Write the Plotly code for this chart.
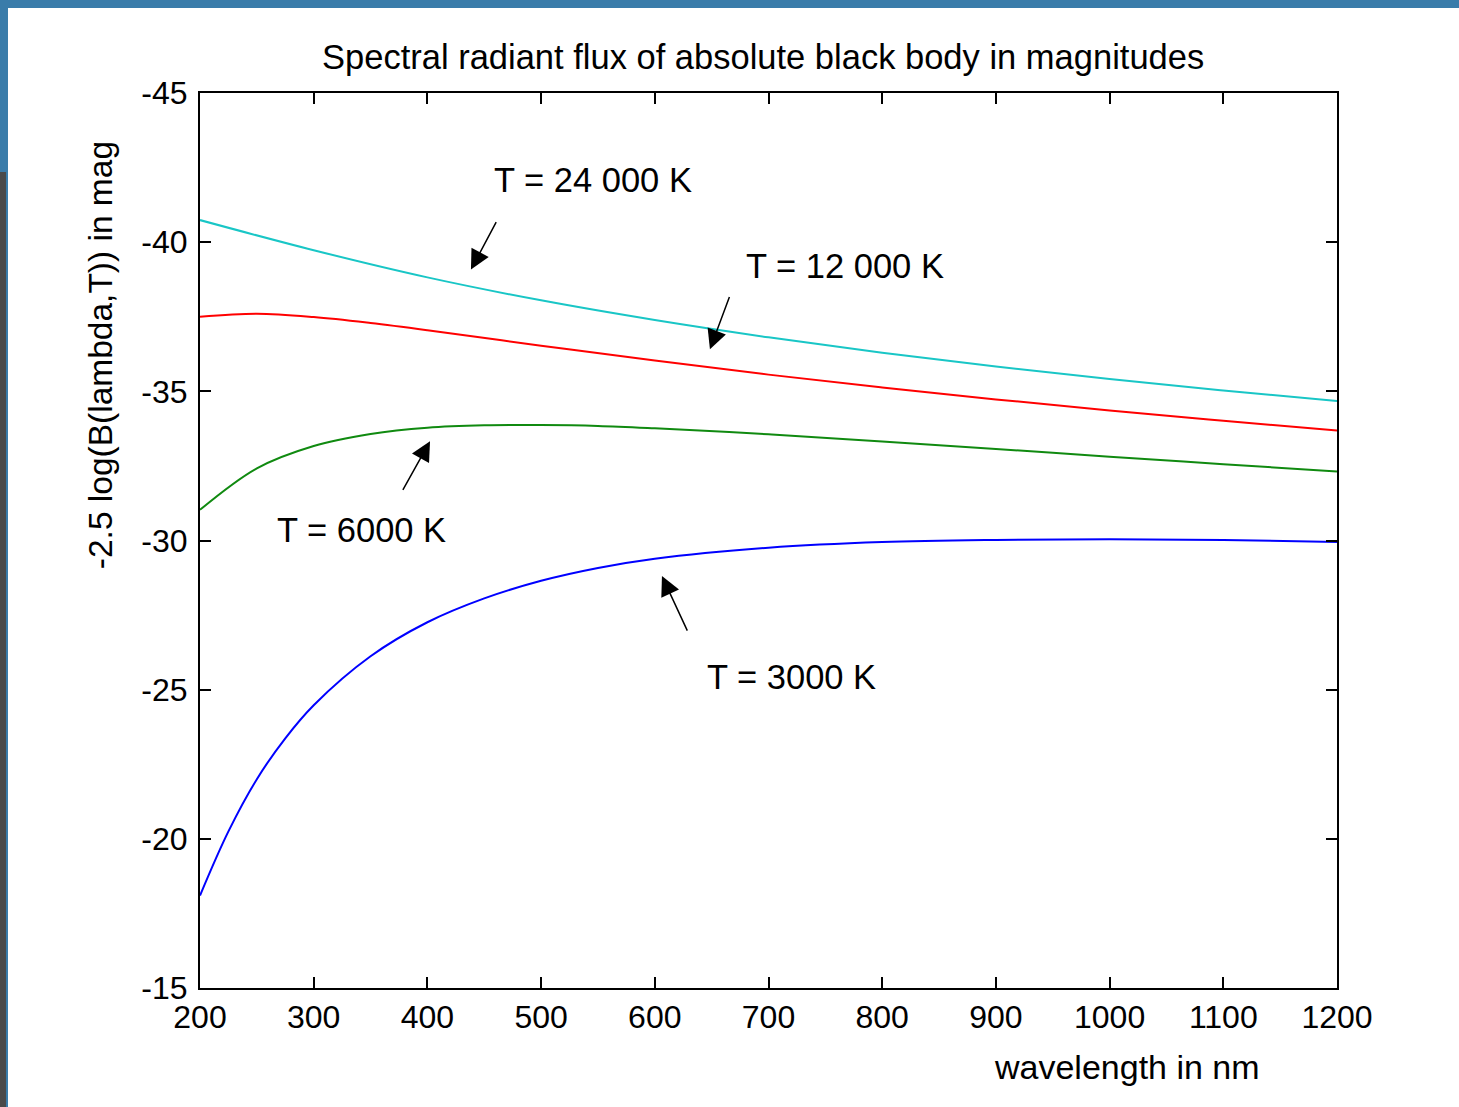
import plotly.graph_objects as go

# ---- data ----
wl_fine = [200, 225, 250, 275, 300, 350, 400, 450, 500, 550, 600, 700, 800, 900, 1000, 1100, 1200]
wl_mid = [200, 250, 300, 350, 400, 450, 500, 550, 600, 700, 800, 900, 1000, 1100, 1200]
wl_coarse = [200, 250, 300, 350, 400, 500, 600, 700, 800, 900, 1000, 1100, 1200]
wl_cyan = [200, 300, 400, 500, 600, 700, 800, 900, 1000, 1100, 1200]

mag_24000 = [-40.74, -39.73, -38.82, -38.05, -37.39, -36.81, -36.29, -35.83, -35.41, -35.03, -34.68]
mag_12000 = [-37.50, -37.60, -37.49, -37.29, -37.05, -36.53, -36.03, -35.56, -35.13, -34.73, -34.36, -34.01, -33.69]
mag_6000 = [-31.03, -32.42, -33.17, -33.57, -33.78, -33.86, -33.87, -33.84, -33.76, -33.56, -33.32, -33.07, -32.81, -32.56, -32.31]
mag_3000 = [-18.10, -20.25, -22.00, -23.37, -24.48, -26.12, -27.26, -28.06, -28.65, -29.08, -29.39, -29.76, -29.95, -30.02, -30.04, -30.02, -29.95]

x_ticks = [200, 300, 400, 500, 600, 700, 800, 900, 1000, 1100, 1200]
x_ticktext = ["200", "300", "400", "500", "600", "700", "800", "900", "1000", "1100", "1200"]
y_ticks = [-45, -40, -35, -30, -25, -20, -15]
y_ticktext = ["-45", "-40", "-35", "-30", "-25", "-20", "-15"]

labels = ["T = 24 000 K", "T = 12 000 K", "T = 6000 K", "T = 3000 K"]

FONT = "Liberation Sans, Arial, sans-serif"

fig = go.Figure()
line_kw = dict(shape="spline", smoothing=1.0, width=2)
fig.add_trace(go.Scatter(x=wl_cyan, y=mag_24000, mode="lines", line=dict(color="#19c6c6", **line_kw)))
fig.add_trace(go.Scatter(x=wl_coarse, y=mag_12000, mode="lines", line=dict(color="#ff0000", **line_kw)))
fig.add_trace(go.Scatter(x=wl_mid, y=mag_6000, mode="lines", line=dict(color="#108a10", **line_kw)))
fig.add_trace(go.Scatter(x=wl_fine, y=mag_3000, mode="lines", line=dict(color="#0000ff", **line_kw)))

axis_common = dict(
    showline=True, linecolor="black", linewidth=2, mirror="ticks",
    ticks="inside", ticklen=11, tickwidth=2, tickcolor="black",
    showgrid=False, zeroline=False,
    tickfont=dict(family=FONT, size=32, color="black"),
)
fig.update_xaxes(range=[200, 1200], tickvals=x_ticks, ticktext=x_ticktext,
                 ticklabelstandoff=0, **axis_common)
fig.update_yaxes(range=[-15, -45], tickvals=y_ticks, ticktext=y_ticktext,
                 ticklabelstandoff=4, **axis_common)

# arrows: (tip x, tip y, tail x, tail y)
arrows = [
    (438.3, -39.08, 461.2, -40.72),
    (648.5, -36.41, 666.1, -38.21),
    (402.3, -33.33, 377.7, -31.65),
    (606.3, -28.81, 629.2, -26.93),
]
for tx, ty, ax, ay in arrows:
    fig.add_annotation(x=tx, y=ty, ax=ax, ay=ay, xref="x", yref="y", axref="x", ayref="y",
                       text="", showarrow=True, arrowhead=2, arrowsize=2.6, arrowwidth=1.5,
                       arrowcolor="black", standoff=0, startstandoff=0)

text_pos = [(545.6, -42.09), (767.3, -39.21), (341.6, -30.35), (719.8, -25.43)]
for (px, py), t in zip(text_pos, labels):
    fig.add_annotation(x=px, y=py, xref="x", yref="y", text=t, showarrow=False,
                       font=dict(family=FONT, size=34.5, color="black"),
                       xanchor="center", yanchor="middle")

# title and axis labels
fig.add_annotation(x=0.4952, y=1.0402, xref="paper", yref="paper",
                   text="Spectral radiant flux of absolute black body in magnitudes",
                   showarrow=False, font=dict(family=FONT, size=34.5, color="black"),
                   xanchor="center", yanchor="middle")
fig.add_annotation(x=0.8153, y=-0.0883, xref="paper", yref="paper",
                   text="wavelength in nm", showarrow=False,
                   font=dict(family=FONT, size=34, color="black"),
                   xanchor="center", yanchor="middle")
fig.add_annotation(x=-0.088, y=0.707, xref="paper", yref="paper",
                   text="-2.5 log(B(lambda,T)) in mag", textangle=-90, showarrow=False,
                   font=dict(family=FONT, size=33.5, color="black"),
                   xanchor="center", yanchor="middle")

# window frame: white page over blue border, grey strip at left
fig.add_shape(type="rect", xref="paper", yref="paper", x0=-0.16887, x1=1.2, y0=-0.2, y1=1.09497,
              fillcolor="white", line=dict(width=0), layer="below")
fig.add_shape(type="rect", xref="paper", yref="paper", x0=-0.2, x1=-0.17062, y0=-0.2, y1=0.9117,
              fillcolor="#4a4a4a", line=dict(width=0), layer="below")

fig.update_layout(
    width=1459, height=1107,
    margin=dict(l=200, r=122, t=93, b=119),
    paper_bgcolor="#3a7caa", plot_bgcolor="white",
    showlegend=False,
)

fig.write_html(
    "out.html",
    config={"displayModeBar": False},
    post_script="document.body.style.margin='0';document.body.style.overflow='hidden';",
)
